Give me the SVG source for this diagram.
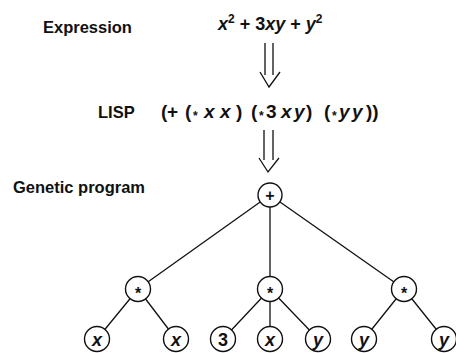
<svg xmlns="http://www.w3.org/2000/svg" width="456" height="353" viewBox="0 0 456 353">
<style>
text{font-family:"Liberation Sans",Arial,Helvetica,sans-serif;fill:#111}
.lbl{font-size:16.5px;font-weight:bold}
.math{font-size:18px;font-weight:bold}
.sup{font-size:12px}
.it{font-style:italic}
.lisp{font-size:19px;font-weight:bold}
.ast{font-size:12px}
.edge{stroke:#111;stroke-width:1.3;fill:none}
.node circle{fill:#fff;stroke:#111;stroke-width:1.4}
.node text{font-size:18px;font-weight:bold;text-anchor:middle}
.node text.op{font-size:16px}
</style>
<g id="labels">
<text class="lbl" x="43" y="33">Expression</text>
<text class="math" x="218" y="30"><tspan class="it">x</tspan><tspan class="sup" dy="-7">2</tspan><tspan dy="7"> + 3</tspan><tspan class="it">xy</tspan> + <tspan class="it">y</tspan><tspan class="sup" dy="-7">2</tspan></text>
<text class="lbl" x="98" y="118">LISP</text>
<text class="lisp" y="118"><tspan x="161">(</tspan><tspan x="167">+</tspan><tspan x="185">(</tspan><tspan x="193" class="ast" dy="2">*</tspan><tspan x="204" class="it" dy="-2">x</tspan><tspan x="220" class="it">x</tspan><tspan x="236">)</tspan><tspan x="251">(</tspan><tspan x="259" class="ast" dy="2">*</tspan><tspan x="266" dy="-2">3</tspan><tspan x="281" class="it">x</tspan><tspan x="294" class="it">y</tspan><tspan x="306">)</tspan><tspan x="324">(</tspan><tspan x="332" class="ast" dy="2">*</tspan><tspan x="339" class="it" dy="-2">y</tspan><tspan x="352" class="it">y</tspan><tspan x="366">))</tspan></text>
<text class="lbl" x="13" y="193">Genetic program</text>
</g>
<g id="connectors" class="edge">
<path d="M265,43V75M273,43V75M260,72L269,87L280,72"/>
<path d="M264,130V160M273,130V160M259,158L268,172L279,158"/>
<path d="M270,195L138,289M270,195L270,289M270,195L404,289"/>
<path d="M138,289L97,339M138,289L176,339"/>
<path d="M270,289L223,339M270,289L270,339M270,289L318,339"/>
<path d="M404,289L364,339M404,289L444,339"/>
</g>
<g id="n-root" class="node"><circle cx="270" cy="195" r="12"/><text class="op" x="270" y="201">+</text></g>
<g id="n-m1" class="node"><circle cx="138" cy="289" r="12.5"/><text class="op" x="138" y="299">*</text></g>
<g id="n-m2" class="node"><circle cx="270" cy="289" r="12.5"/><text class="op" x="270" y="299">*</text></g>
<g id="n-m3" class="node"><circle cx="404" cy="289" r="12.5"/><text class="op" x="404" y="299">*</text></g>
<g id="n-l1" class="node"><circle cx="97" cy="339" r="12.5"/><text class="it" x="97" y="346">x</text></g>
<g id="n-l2" class="node"><circle cx="176" cy="339" r="12.5"/><text class="it" x="176" y="346">x</text></g>
<g id="n-l3" class="node"><circle cx="223" cy="339" r="12.5"/><text x="223" y="345.5">3</text></g>
<g id="n-l4" class="node"><circle cx="270" cy="339" r="12.5"/><text class="it" x="270" y="346">x</text></g>
<g id="n-l5" class="node"><circle cx="318" cy="339" r="12.5"/><text class="it" x="318" y="346">y</text></g>
<g id="n-l6" class="node"><circle cx="364" cy="339" r="12.5"/><text class="it" x="364" y="346">y</text></g>
<g id="n-l7" class="node"><circle cx="444" cy="339" r="12.5"/><text class="it" x="444" y="346">y</text></g>
</svg>
